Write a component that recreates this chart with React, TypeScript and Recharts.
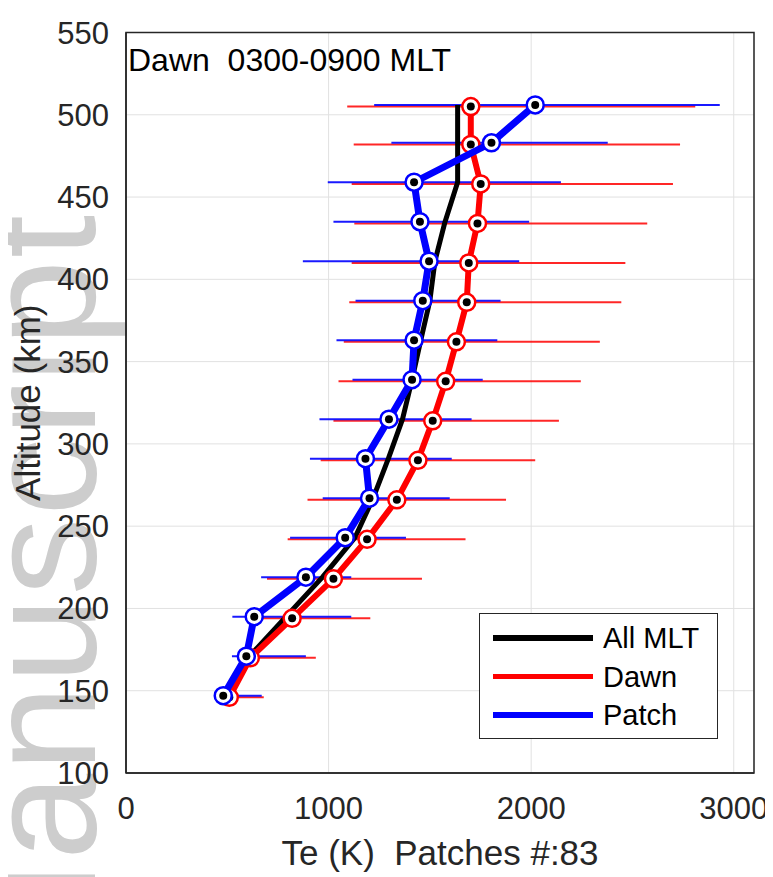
import React from "react";
import {
  ScatterChart,
  Scatter,
  XAxis,
  YAxis,
  CartesianGrid,
  ErrorBar,
  Legend,
  ReferenceArea,
  Label,
} from "recharts";

const FONT = "'Liberation Sans', Arial, Helvetica, sans-serif";
const AXIS_COLOR = "#262626";

// Patch (blue)
const patchAlt = [147, 171, 195, 219, 243, 267, 291, 315, 339, 363, 387, 411, 435, 459, 483, 506];
const patchTe = [480, 594, 633, 888, 1082, 1202, 1182, 1298, 1412, 1422, 1465, 1496, 1451, 1422, 1804, 2020];
const patchLo = [455, 523, 525, 667, 810, 971, 908, 955, 1118, 1039, 1133, 873, 1024, 996, 1310, 1225];
const patchHi = [670, 888, 1112, 1112, 1382, 1598, 1608, 1706, 1761, 1833, 1849, 1941, 1990, 2147, 2378, 2931];

// Dawn (red)
const dawnAlt = [146, 170, 194, 218, 242, 266, 290, 314, 338, 362, 386, 410, 434, 458, 482, 505];
const dawnTe = [510, 614, 820, 1024, 1190, 1337, 1441, 1514, 1578, 1631, 1682, 1692, 1735, 1751, 1702, 1702];
const dawnLo = [490, 570, 640, 696, 798, 896, 961, 1024, 1049, 1075, 1102, 1114, 1127, 1114, 1124, 1092];
const dawnHi = [680, 937, 1206, 1461, 1676, 1876, 2020, 2137, 2245, 2339, 2445, 2465, 2573, 2700, 2735, 2810];

// All MLT (black)
const allAlt = [147, 171, 195, 219, 243, 267, 291, 315, 339, 363, 387, 411, 435, 459, 483, 506];
const allTe = [500, 610, 790, 970, 1130, 1220, 1295, 1365, 1412, 1455, 1500, 1525, 1575, 1637, 1637, 1637];

const xTicks = [0, 1000, 2000, 3000];
const yTicks = [100, 150, 200, 250, 300, 350, 400, 450, 500, 550];

const legendNames = ["All MLT", "Dawn", "Patch"];
const legendColors = ["#000000", "#ff0000", "#0000ff"];

const toRows = (alt: number[], te: number[], lo?: number[], hi?: number[]) =>
  alt.map((a, i) => ({
    alt: a,
    te: te[i],
    err: lo && hi ? [te[i] - lo[i], hi[i] - te[i]] : [0, 0],
  }));

const patchData = toRows(patchAlt, patchTe, patchLo, patchHi);
const dawnData = toRows(dawnAlt, dawnTe, dawnLo, dawnHi);
const allData = toRows(allAlt, allTe);

const Empty = () => <g />;

const makeMarker = (color: string) => (props: any) => {
  const { cx, cy } = props;
  if (cx == null || cy == null) return <g />;
  return (
    <g>
      <circle cx={cx} cy={cy} r={8.5} fill="#fff" stroke={color} strokeWidth={2.5} />
      <circle cx={cx} cy={cy} r={4} fill="#000" />
    </g>
  );
};

const LegendBox = () => (
  <div
    style={{
      width: 239,
      height: 126,
      boxSizing: "border-box",
      border: `1.5px solid ${AXIS_COLOR}`,
      background: "#fff",
      position: "relative",
    }}
  >
    {legendNames.map((n, i) => (
      <div
        key={n}
        style={{
          position: "absolute",
          left: 13,
          top: 24 + i * 38.5 - 17,
          height: 34,
          display: "flex",
          alignItems: "center",
        }}
      >
        <div style={{ width: 100, height: 5.5, background: legendColors[i] }} />
        <span
          style={{
            marginLeft: 10,
            fontSize: 29,
            fontFamily: FONT,
            color: "#000",
            lineHeight: "34px",
            whiteSpace: "pre",
          }}
        >
          {n}
        </span>
      </div>
    ))}
  </div>
);

const tickStyle = { fontSize: 31, fill: AXIS_COLOR, fontFamily: FONT };

export default function App() {
  return (
    <div style={{ position: "relative", width: 765, height: 869, fontFamily: FONT }}>
      <svg
        width={765}
        height={869}
        style={{ position: "absolute", left: 0, top: 0, zIndex: 0 }}
      >
        <text
          x={87}
          y={205}
          transform="rotate(-90, 87, 205)"
          textAnchor="end"
          fontSize={155}
          letterSpacing={2}
          fill="#cdcdcd"
          fontFamily={FONT}
        >
          Manuscript
        </text>
      </svg>
      <div style={{ position: "absolute", left: 0, top: 0, zIndex: 1 }}>
        <ScatterChart
          width={765}
          height={869}
          margin={{ top: 24.5, right: 19, bottom: 0, left: 0 }}
        >
          <CartesianGrid stroke="#e1e1e1" strokeWidth={1} />
          <XAxis
            type="number"
            dataKey="te"
            domain={[0, 3100]}
            ticks={xTicks}
            allowDataOverflow
            height={104}
            tickSize={0}
            tickMargin={24}
            tickLine={false}
            axisLine={{ stroke: AXIS_COLOR, strokeWidth: 1.5 }}
            tick={tickStyle}
          >
            <Label
              value={"Te (K)\u00A0 Patches #:83"}
              position="insideBottom"
              offset={12}
              style={{ fontSize: 35, fill: AXIS_COLOR, fontFamily: FONT }}
            />
          </XAxis>
          <YAxis
            type="number"
            dataKey="alt"
            domain={[100, 550]}
            ticks={yTicks}
            allowDataOverflow
            width={118}
            tickSize={0}
            tickMargin={17}
            tickLine={false}
            axisLine={{ stroke: AXIS_COLOR, strokeWidth: 1.5 }}
            tick={tickStyle}
          >
            <Label
              value="Altitude (km)"
              position="center"
              angle={-90}
              dx={-39}
              style={{ fontSize: 35, fill: AXIS_COLOR, fontFamily: FONT }}
            />
          </YAxis>
          <ReferenceArea
            x1={0}
            x2={3100}
            y1={100}
            y2={550}
            fill="none"
            stroke={AXIS_COLOR}
            strokeWidth={1.5}
          >
            <Label
              value={"Dawn\u00A0 0300-0900 MLT"}
              position="insideTopLeft"
              offset={2}
              dy={13.5}
              style={{ fontSize: 32, fill: "#000", fontFamily: FONT }}
            />
          </ReferenceArea>

          <Scatter
            name="Dawn bars"
            data={dawnData}
            fill="#ff0000"
            shape={Empty}
            legendType="none"
            isAnimationActive={false}
          >
            <ErrorBar dataKey="err" direction="x" width={0} stroke="#ff0000" strokeWidth={2} strokeOpacity={0.85} isAnimationActive={false} />
          </Scatter>
          <Scatter
            name="Patch bars"
            data={patchData}
            fill="#0000ff"
            shape={Empty}
            legendType="none"
            isAnimationActive={false}
          >
            <ErrorBar dataKey="err" direction="x" width={0} stroke="#0000ff" strokeWidth={2} strokeOpacity={0.9} isAnimationActive={false} />
          </Scatter>

          <Scatter
            name="All MLT"
            data={allData}
            fill="#000000"
            shape={Empty}
            line={{ stroke: "#000000", strokeWidth: 5, strokeLinejoin: "round" }}
            isAnimationActive={false}
          />
          <Scatter
            name="Dawn"
            data={dawnData}
            fill="#ff0000"
            shape={makeMarker("#ff0000")}
            line={{ stroke: "#ff0000", strokeWidth: 6, strokeLinejoin: "round" }}
            isAnimationActive={false}
          />
          <Scatter
            name="Patch"
            data={patchData}
            fill="#0000ff"
            shape={makeMarker("#0000ff")}
            line={{ stroke: "#0000ff", strokeWidth: 7, strokeLinejoin: "round" }}
            isAnimationActive={false}
          />

          <Legend
            layout="vertical"
            align="center"
            verticalAlign="middle"
            wrapperStyle={{ left: 471, top: 605, width: 239, height: 126 }}
            content={() => <LegendBox />}
          />
        </ScatterChart>
      </div>
    </div>
  );
}
